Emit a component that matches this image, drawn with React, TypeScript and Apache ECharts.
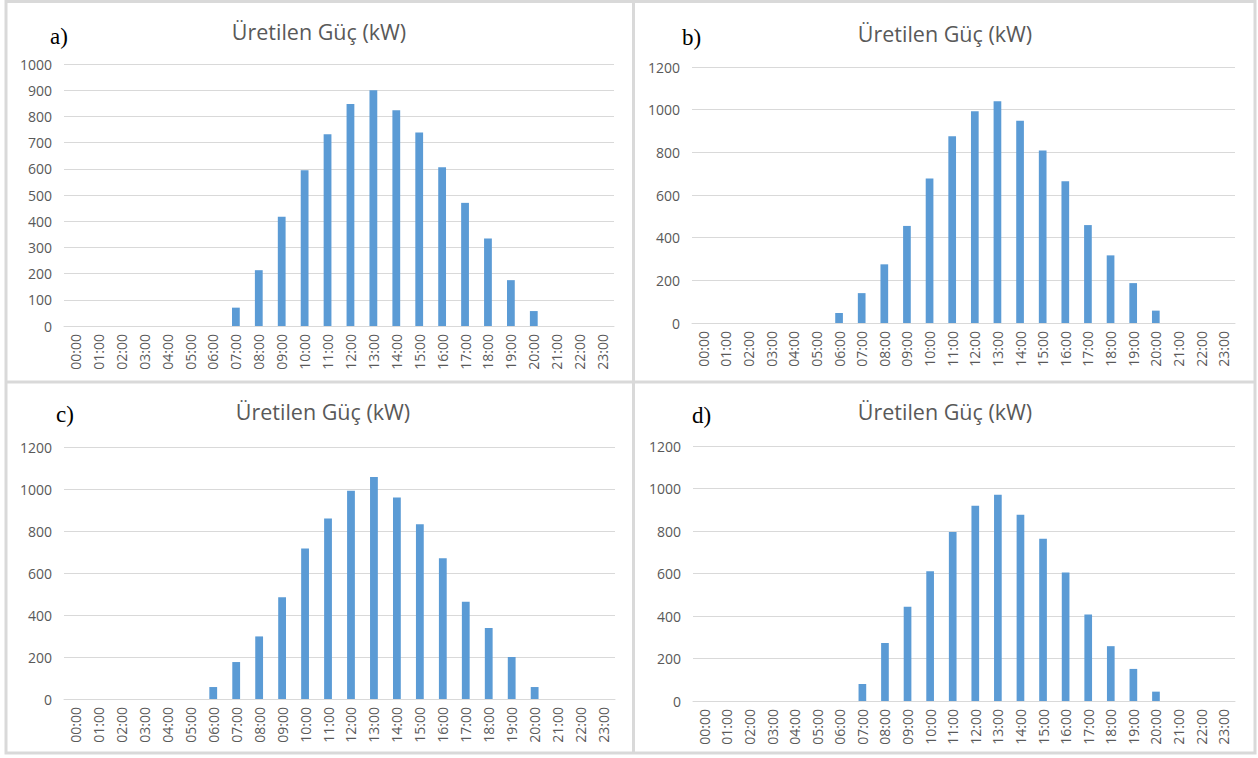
import React, { useEffect, useRef } from "react";
import * as echarts from "echarts";

const hours = [
  "00:00", "01:00", "02:00", "03:00", "04:00", "05:00", "06:00", "07:00",
  "08:00", "09:00", "10:00", "11:00", "12:00", "13:00", "14:00", "15:00",
  "16:00", "17:00", "18:00", "19:00", "20:00", "21:00", "22:00", "23:00",
];

const powerA = [0, 0, 0, 0, 0, 0, 0, 70, 213, 417, 594, 732, 847, 900, 823, 739, 606, 470, 334, 175, 57, 0, 0, 0];
const powerB = [0, 0, 0, 0, 0, 0, 47, 140, 275, 455, 677, 875, 992, 1039, 948, 809, 664, 459, 317, 187, 58, 0, 0, 0];
const powerC = [0, 0, 0, 0, 0, 0, 57, 176, 298, 484, 717, 859, 992, 1057, 959, 832, 670, 463, 338, 200, 57, 0, 0, 0];
const powerD = [0, 0, 0, 0, 0, 0, 0, 80, 273, 443, 611, 795, 919, 971, 876, 763, 605, 407, 258, 151, 44, 0, 0, 0];

const panelLetters = ["a)", "b)", "c)", "d)"];
const titleText = "Üretilen Güç (kW)";
const yMaxes = [1000, 1200, 1200, 1200];
const yIntervals = [100, 200, 200, 200];

export default function App() {
  const ref = useRef<HTMLDivElement>(null);

  useEffect(() => {
    if (!ref.current) return;
    const chart = echarts.init(ref.current, null, { renderer: "svg" });
    const series = [powerA, powerB, powerC, powerD];

    const grids = [
      { left: 64, top: 64, width: 550, height: 262 },
      { left: 692, top: 67, width: 543, height: 256 },
      { left: 64, top: 447, width: 551, height: 252 },
      { left: 693, top: 446, width: 542, height: 255 },
    ];
    const titlePos = [
      { x: 319, y: 31 },
      { x: 945, y: 33 },
      { x: 323, y: 411 },
      { x: 945, y: 411 },
    ];
    const letterPos = [
      { x: 50, y: 36 },
      { x: 682, y: 37 },
      { x: 56, y: 414 },
      { x: 692, y: 415 },
    ];

    const fontFamily = "'Open Sans', Lato, sans-serif";
    const gridColor = "#d9d9d9";
    const labelColor = "#595959";

    const option: any = {
      animation: false,
      backgroundColor: "#ffffff",
      grid: grids.map((g) => ({ ...g, containLabel: false })),
      xAxis: series.map((_, i) => ({
        type: "category",
        gridIndex: i,
        data: hours,
        axisLine: { show: true, lineStyle: { color: gridColor, width: 1 } },
        axisTick: { show: false },
        axisLabel: {
          rotate: 90,
          interval: 0,
          color: labelColor,
          fontSize: 14,
          fontFamily,
          margin: 8,
        },
      })),
      yAxis: series.map((_, i) => ({
        type: "value",
        gridIndex: i,
        min: 0,
        max: yMaxes[i],
        interval: yIntervals[i],
        axisLine: { show: false },
        axisTick: { show: false },
        splitLine: { show: true, lineStyle: { color: gridColor, width: 1 } },
        axisLabel: {
          color: labelColor,
          fontSize: 14,
          fontFamily,
          margin: 12,
          formatter: (v: number) => String(v),
        },
      })),
      series: series.map((d, i) => ({
        type: "bar",
        xAxisIndex: i,
        yAxisIndex: i,
        data: d,
        barWidth: "34%",
        itemStyle: { color: "#5b9bd5" },
      })),
      graphic: [
        {
          type: "rect",
          shape: { x: 6, y: 1.5, width: 1249, height: 751.5 },
          style: { fill: "none", stroke: gridColor, lineWidth: 3 },
          silent: true,
        },
        {
          type: "line",
          shape: { x1: 633.5, y1: 1, x2: 633.5, y2: 753 },
          style: { stroke: gridColor, lineWidth: 3 },
          silent: true,
        },
        {
          type: "line",
          shape: { x1: 6, y1: 382, x2: 1255, y2: 382 },
          style: { stroke: gridColor, lineWidth: 3 },
          silent: true,
        },
        ...titlePos.map((p) => ({
          type: "text",
          x: p.x,
          y: p.y,
          style: {
            text: titleText,
            fill: labelColor,
            fontSize: 21.5,
            fontFamily,
            align: "center",
            verticalAlign: "middle",
          },
        })),
        ...letterPos.map((p, i) => ({
          type: "text",
          x: p.x,
          y: p.y,
          style: {
            text: panelLetters[i],
            fill: "#000000",
            fontSize: 23,
            fontFamily: "'Liberation Serif', 'DejaVu Serif', serif",
            align: "left",
            verticalAlign: "middle",
          },
        })),
      ],
    };

    chart.setOption(option);
    return () => chart.dispose();
  }, []);

  return (
    <div
      ref={ref}
      style={{ position: "absolute", left: 0, top: 0, width: 1258, height: 758 }}
    />
  );
}
